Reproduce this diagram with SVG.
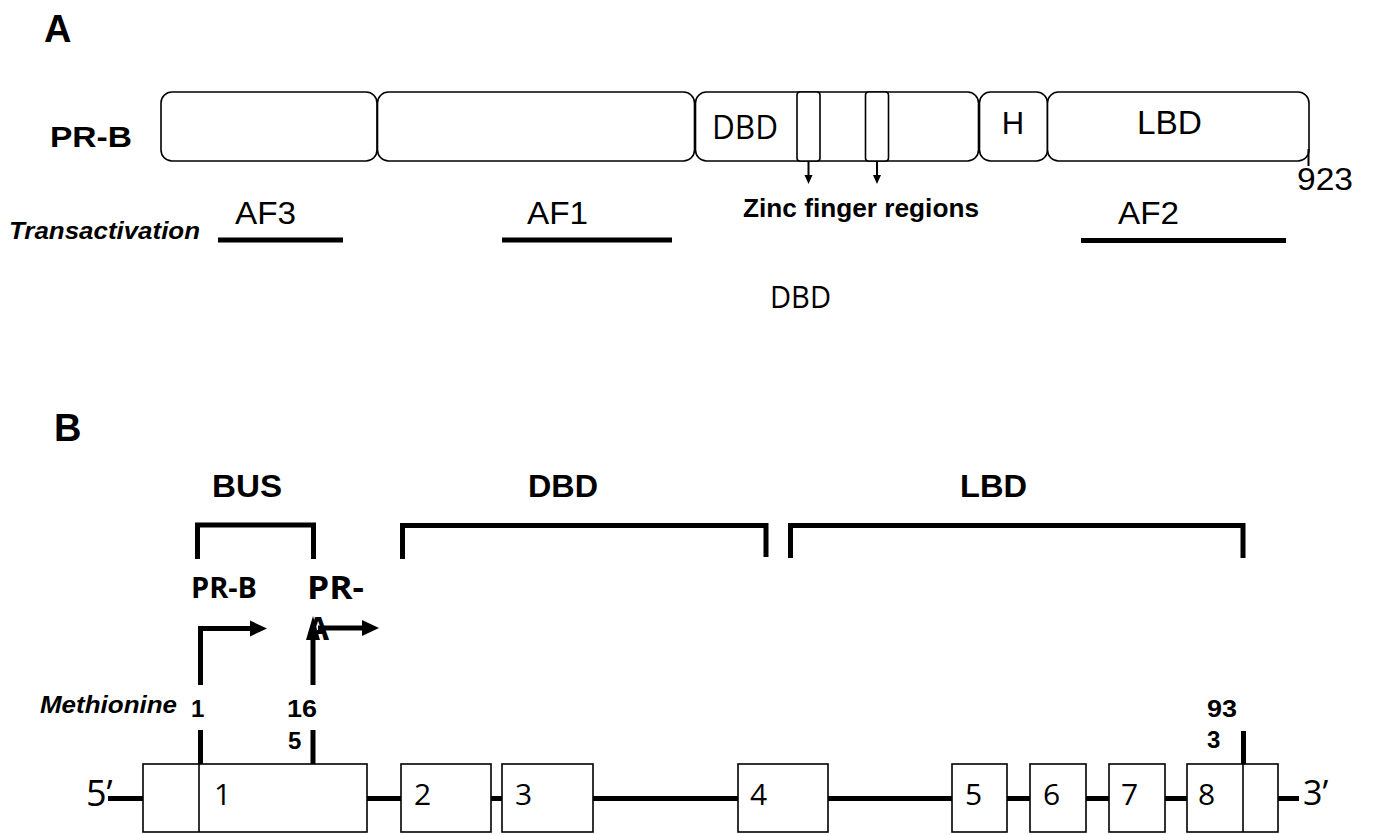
<svg xmlns="http://www.w3.org/2000/svg" width="1373" height="835" viewBox="0 0 1373 835">
<style>
.ar{font-family:"Liberation Sans",Arial,sans-serif;fill:#000}
.b{font-weight:bold}
.bi{font-weight:bold;font-style:italic}
.os{font-family:"Open Sans","Noto Sans",sans-serif;fill:#000}
.dom{fill:#fff;stroke:#000;stroke-width:1.6}
.ex{fill:#fff;stroke:#000;stroke-width:1.6}
.thick{stroke:#000;stroke-width:5;fill:none}
.thin{stroke:#000;stroke-width:2;fill:none}
.head{fill:#000;stroke:none}
</style>
<rect width="1373" height="835" fill="#fff"/>

<!-- Panel A -->
<text class="ar b" x="44" y="42" font-size="38">A</text>
<text class="ar b" x="50" y="147" font-size="30" textLength="82" lengthAdjust="spacingAndGlyphs">PR-B</text>

<g id="domain1"><rect class="dom" x="161" y="92" width="216" height="69" rx="11"/></g>
<g id="domain2"><rect class="dom" x="377.5" y="92" width="317" height="69" rx="11"/></g>
<g id="domain-dbd">
<rect class="dom" x="695.5" y="92" width="283" height="69" rx="11"/>
<text class="os" x="712" y="139" font-size="32" textLength="66" lengthAdjust="spacingAndGlyphs">DBD</text>
</g>
<g id="zinc1"><rect class="dom" x="797" y="92" width="23" height="69" rx="3"/></g>
<g id="zinc2"><rect class="dom" x="865.5" y="92" width="23" height="69" rx="3"/></g>
<g id="domain-h">
<rect class="dom" x="979.5" y="92" width="68" height="69" rx="11"/>
<text class="ar" x="1013" y="134" font-size="31" text-anchor="middle">H</text>
</g>
<g id="domain-lbd">
<rect class="dom" x="1047.5" y="92" width="261.5" height="69" rx="11"/>
<text class="ar" x="1137" y="134" font-size="34" textLength="65" lengthAdjust="spacingAndGlyphs">LBD</text>
</g>
<line class="thin" x1="1308.5" y1="149" x2="1308.5" y2="166" stroke-width="3"/>
<text class="ar" x="1297" y="190" font-size="32" textLength="56" lengthAdjust="spacingAndGlyphs">923</text>

<g id="connectors-a">
<line class="thin" x1="808.5" y1="161" x2="808.5" y2="176"/>
<path class="head" d="M804.5,175 L812.5,175 L808.5,184 Z"/>
<line class="thin" x1="877" y1="161" x2="877" y2="176"/>
<path class="head" d="M873,175 L881,175 L877,184 Z"/>
</g>
<text class="ar b" x="743" y="217" font-size="26" textLength="236" lengthAdjust="spacingAndGlyphs">Zinc finger regions</text>

<text class="ar bi" x="9" y="239" font-size="24" textLength="191" lengthAdjust="spacingAndGlyphs">Transactivation</text>
<g id="af3">
<text class="ar" x="235" y="224" font-size="31" textLength="61" lengthAdjust="spacingAndGlyphs">AF3</text>
<line class="thick" x1="218" y1="240" x2="343" y2="240"/>
</g>
<g id="af1">
<text class="ar" x="527" y="224" font-size="31" textLength="61" lengthAdjust="spacingAndGlyphs">AF1</text>
<line class="thick" x1="502" y1="240" x2="672" y2="240"/>
</g>
<g id="af2">
<text class="ar" x="1118" y="224" font-size="31" textLength="61" lengthAdjust="spacingAndGlyphs">AF2</text>
<line class="thick" x1="1081" y1="240.5" x2="1286" y2="240.5"/>
</g>
<text class="os" x="770" y="308" font-size="31" textLength="61" lengthAdjust="spacingAndGlyphs">DBD</text>

<!-- Panel B -->
<text class="ar b" x="54" y="441" font-size="38">B</text>

<g id="bus">
<text class="ar b" x="212" y="497" font-size="31" textLength="70" lengthAdjust="spacingAndGlyphs">BUS</text>
<path class="thick" d="M197.5,559 V525 H313.5 V559"/>
</g>
<g id="dbd-b">
<text class="ar b" x="528" y="497" font-size="31" textLength="70" lengthAdjust="spacingAndGlyphs">DBD</text>
<path class="thick" d="M402.5,559 V525.5 H766 V557"/>
</g>
<g id="lbd-b">
<text class="ar b" x="960" y="497" font-size="32" textLength="67" lengthAdjust="spacingAndGlyphs">LBD</text>
<path class="thick" d="M790.5,558 V525.5 H1243 V558"/>
</g>

<g id="prb-promoter">
<text class="os b" x="191" y="598" font-size="28" textLength="66" lengthAdjust="spacingAndGlyphs">PR-B</text>
</g>
<g id="pra-promoter">
<text class="os b" x="307" y="599" font-size="32" textLength="57" lengthAdjust="spacingAndGlyphs">PR-</text>
<text class="os b" x="307" y="640" font-size="32">A</text>
</g>

<g id="connectors-b">
<path class="thick" d="M200.5,685 V628.5 H252"/>
<path class="head" d="M250,620.5 L267,628.5 L250,636.5 Z"/>
<line class="thick" x1="313" y1="685" x2="313" y2="630"/>
<path class="head" d="M306,640 L313,616 L320,640 Z"/>
<line class="thick" x1="318" y1="628" x2="364" y2="628"/>
<path class="head" d="M362,620 L379,628 L362,636 Z"/>
<line class="thick" x1="200.5" y1="730" x2="200.5" y2="764"/>
<line class="thick" x1="313" y1="730" x2="313" y2="764"/>
<line class="thick" x1="1243.5" y1="731" x2="1243.5" y2="764"/>
<line class="thick" x1="108" y1="798.5" x2="1299" y2="798.5"/>
</g>

<text class="ar bi" x="40" y="713" font-size="24" textLength="137" lengthAdjust="spacingAndGlyphs">Methionine</text>
<text class="ar b" x="191" y="717" font-size="24">1</text>
<text class="ar b" x="287" y="717" font-size="24" textLength="30" lengthAdjust="spacingAndGlyphs">16</text>
<text class="ar b" x="288" y="749" font-size="24">5</text>
<text class="ar b" x="1207" y="717" font-size="24" textLength="30" lengthAdjust="spacingAndGlyphs">93</text>
<text class="ar b" x="1207" y="748" font-size="24">3</text>

<text class="os" x="86" y="806" font-size="36">5’</text>
<text class="os" x="1303" y="805" font-size="34">3’</text>

<g id="exon1">
<rect class="ex" x="143" y="764" width="224" height="68"/>
<line class="ex" x1="199" y1="764" x2="199" y2="832"/>
<text class="os" x="214" y="805" font-size="30">1</text>
</g>
<g id="exon2"><rect class="ex" x="401" y="764" width="90" height="68"/><text class="os" x="414" y="805" font-size="30">2</text></g>
<g id="exon3"><rect class="ex" x="502" y="764" width="91" height="68"/><text class="os" x="515" y="805" font-size="30">3</text></g>
<g id="exon4"><rect class="ex" x="738" y="764" width="90" height="68"/><text class="os" x="750" y="805" font-size="30">4</text></g>
<g id="exon5"><rect class="ex" x="952" y="764" width="55" height="68"/><text class="os" x="965" y="805" font-size="30">5</text></g>
<g id="exon6"><rect class="ex" x="1030" y="764" width="56" height="68"/><text class="os" x="1043" y="805" font-size="30">6</text></g>
<g id="exon7"><rect class="ex" x="1109" y="764" width="56" height="68"/><text class="os" x="1121" y="805" font-size="30">7</text></g>
<g id="exon8">
<rect class="ex" x="1187" y="764" width="91" height="68"/>
<line class="ex" x1="1243" y1="764" x2="1243" y2="832"/>
<text class="os" x="1198" y="805" font-size="30">8</text>
</g>
</svg>
